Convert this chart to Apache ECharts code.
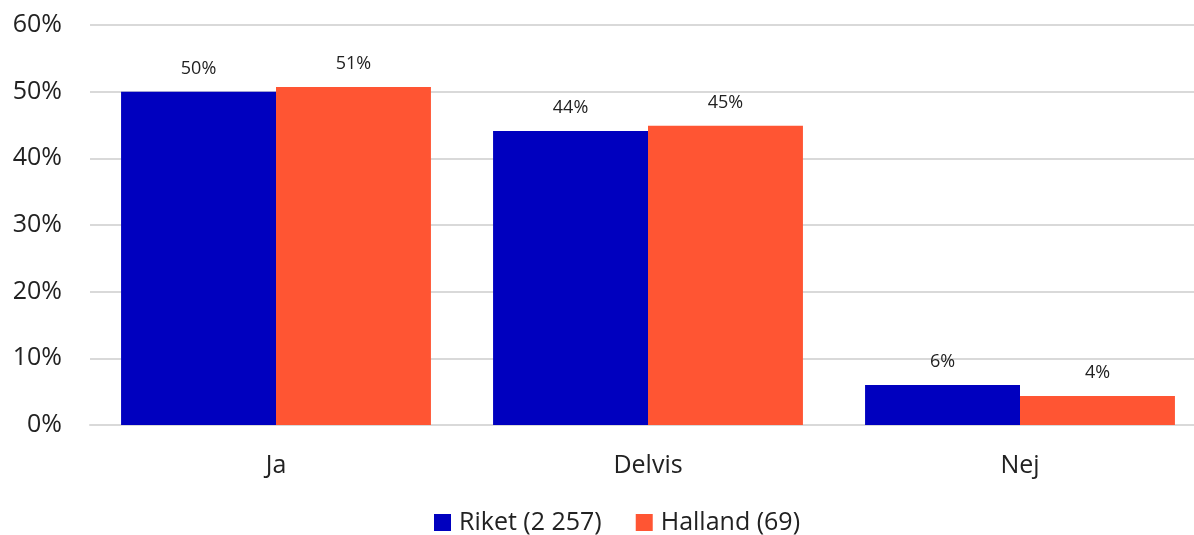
<!DOCTYPE html>
<html><head><meta charset="utf-8">
<script src="https://cdn.jsdelivr.net/npm/echarts@6/dist/echarts.min.js"></script>
<style>html,body{margin:0;padding:0;background:#fff;overflow:hidden}#c{width:1206px;height:535px}</style>
</head><body><div id="c"></div>
<script>
const categories = ['Ja', 'Delvis', 'Nej'];
const riket = [50.0, 44.1, 6.0];
const halland = [50.7, 44.9, 4.35];
const seriesNames = ['Riket (2 257)', 'Halland (69)'];
const yTicks = [0, 10, 20, 30, 40, 50, 60];

const font = '"Open Sans", sans-serif';
const chart = echarts.init(document.getElementById('c'));
const lbl = {
  show: true, position: 'top', distance: 14,
  fontFamily: font, fontSize: 18, color: '#222',
  formatter: p => Math.round(p.value) + '%'
};
chart.setOption({
  animation: false,
  grid: { left: 90, right: 0, top: 25, bottom: 110, containLabel: false },
  legend: {
    top: 505, left: 429, itemWidth: 17, itemHeight: 17, itemGap: 34,
    icon: 'rect',
    textStyle: { fontFamily: font, fontSize: 25, color: '#222', padding: [0, 0, 0, 3] },
    data: seriesNames
  },
  xAxis: {
    type: 'category', data: categories,
    axisLine: { lineStyle: { color: '#d9d9d9', width: 2 } },
    axisTick: { show: false },
    axisLabel: { fontFamily: font, fontSize: 25, color: '#222', margin: 28 }
  },
  yAxis: {
    type: 'value', min: yTicks[0], max: yTicks[yTicks.length - 1], interval: 10,
    axisLine: { show: false }, axisTick: { show: false },
    splitLine: { lineStyle: { color: '#d9d9d9', width: 2 } },
    axisLabel: { fontFamily: font, fontSize: 25, color: '#222', margin: 28, formatter: v => v + '%' }
  },
  series: [
    { name: seriesNames[0], type: 'bar', data: riket, barGap: '0%', barCategoryGap: '16.7%',
      itemStyle: { color: '#0000BF' }, label: lbl },
    { name: seriesNames[1], type: 'bar', data: halland,
      itemStyle: { color: '#FF5533' }, label: lbl }
  ]
});
</script></body></html>
